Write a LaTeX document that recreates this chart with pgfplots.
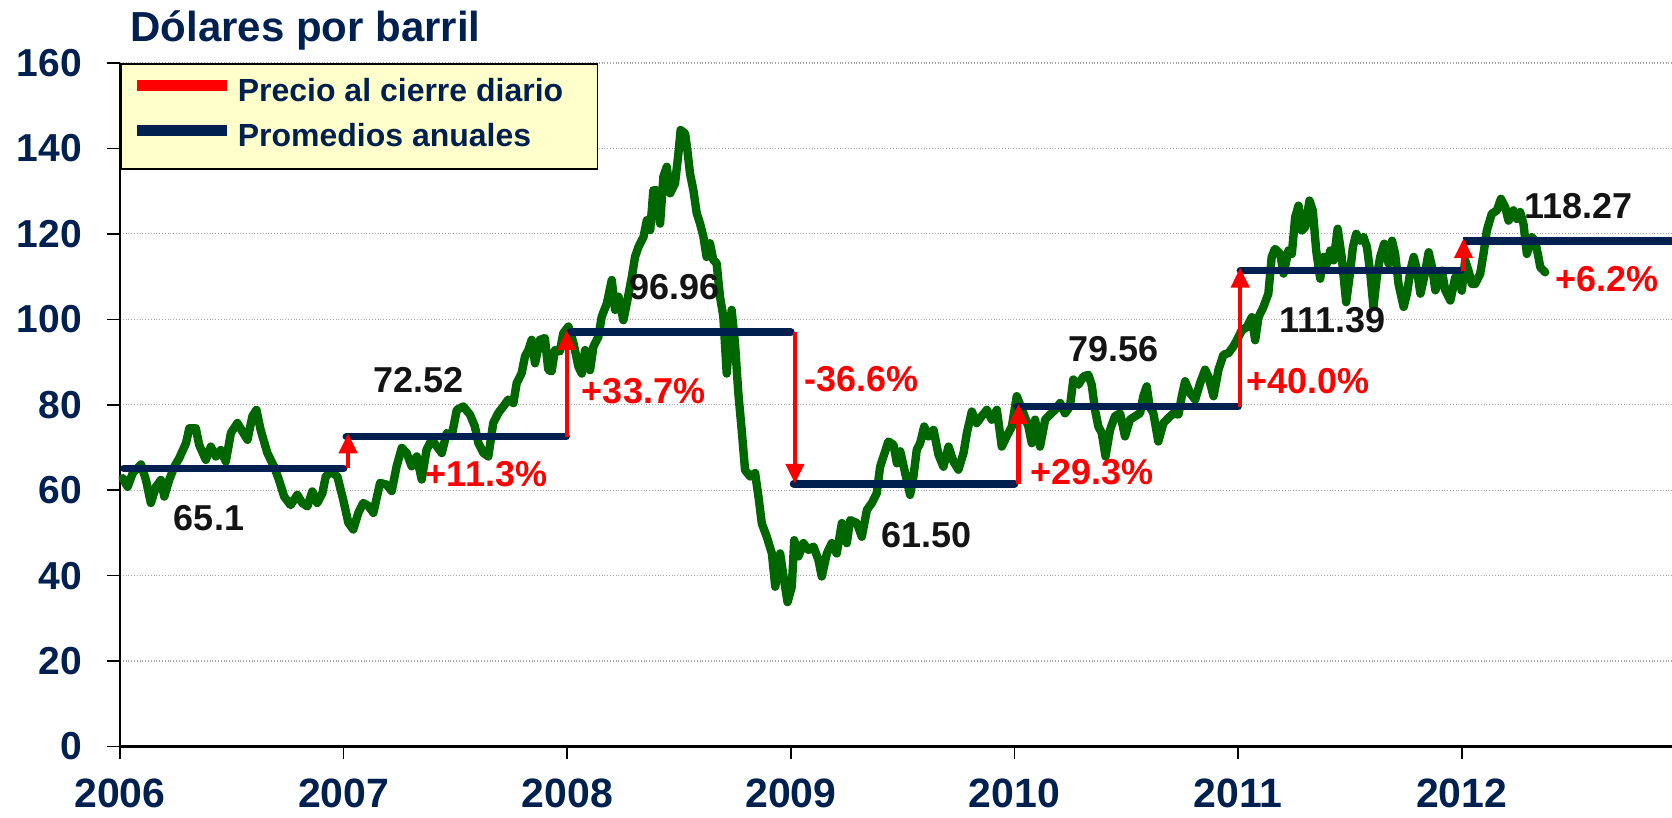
\documentclass[border=0pt]{standalone}
\usepackage{fontspec}
\setmainfont{Liberation Sans}
\usepackage{pgfplots}
\pgfplotsset{compat=1.18}
\usetikzlibrary{arrows.meta}
\definecolor{navy}{RGB}{0,32,80}
\definecolor{oilgreen}{RGB}{0,102,0}
\definecolor{legfill}{RGB}{255,255,204}
\definecolor{lab}{RGB}{20,20,20}
\begin{document}
\begin{tikzpicture}
\begin{axis}[
  at={(0,0)}, anchor=south west,
  scale only axis, width=776pt, height=341.75pt,
  xmin=2006, xmax=2012.94, ymin=0, ymax=160,
  clip=false,
  axis x line*=bottom, axis y line*=left,
  x axis line style={line width=1.6pt, -},
  y axis line style={line width=1pt, -},
  xtick={2006,2007,2008,2009,2010,2011,2012}, ytick={0,20,...,160},
  tick align=outside, major tick length=6.5pt,
  tick style={black, line width=0.8pt},
  ymajorgrids, major grid style={gray!70, densely dotted, line width=0.6pt},
  /pgf/number format/assume math mode=true,
  /pgf/number format/1000 sep={},
  xticklabel style={font=\fontsize{20.5}{20.5}\selectfont\bfseries, text=navy, yshift=-6pt},
  yticklabel style={font=\fontsize{19.5}{19.5}\selectfont\bfseries, text=navy, xshift=-9pt},
  legend style={at={(0,1)}, anchor=north west, fill=legfill, draw=black, line width=0.8pt,
    font=\fontsize{16}{16}\selectfont\bfseries\color{navy},
    inner xsep=5.5pt, inner ysep=7.5pt, row sep=7.5pt,
    nodes={text height=11.5pt, text depth=3.5pt, inner ysep=0pt, inner xsep=2.5pt}},
  legend cell align=left,
  legend image code/.code={\draw[#1] (0pt,4pt) -- (45pt,4pt);},
]
\addlegendimage{red, line width=5.5pt}
\addlegendentry{Precio al cierre diario\rule{9pt}{0pt}}
\addlegendimage{navy, line width=5.5pt}
\addlegendentry{Promedios anuales}

% daily close price
\addplot[oilgreen, line width=4.2pt, line join=round, line cap=round] coordinates {
(2006.012,62.8) (2006.034,60.8) (2006.057,64) (2006.094,66) (2006.116,62.4) (2006.138,57) (2006.161,60.8) (2006.183,62.4) (2006.198,58.5) (2006.220,62.4) (2006.243,65.5) (2006.265,67.5) (2006.295,71) (2006.310,74.5) (2006.339,74.5) (2006.354,70.6) (2006.384,67.1) (2006.406,70.2) (2006.429,67.9) (2006.451,69.4) (2006.473,66.7) (2006.496,73.4) (2006.525,75.7) (2006.548,73.7) (2006.570,71.8) (2006.592,77.3) (2006.610,78.8) (2006.629,74.1) (2006.659,68.7) (2006.689,65.5) (2006.711,62.4) (2006.734,58.5) (2006.763,56.5) (2006.793,58.9) (2006.815,57) (2006.838,56.2) (2006.860,59.7) (2006.882,57) (2006.905,59.3) (2006.920,63.2) (2006.942,64.4) (2006.972,63.2)
(2006.998,57.8) (2007.021,52.4) (2007.043,50.8) (2007.066,54.7) (2007.088,57) (2007.111,56.3) (2007.133,54.7) (2007.163,61.7) (2007.192,61.3) (2007.215,59.8) (2007.237,65.6) (2007.260,69.9) (2007.282,68.7) (2007.304,65.6) (2007.327,67.9) (2007.349,62.5) (2007.371,69.5) (2007.394,71.8) (2007.416,70.3) (2007.439,68.7) (2007.461,73.4) (2007.483,72.6) (2007.506,78.8) (2007.535,79.6) (2007.565,77.7) (2007.587,74.9) (2007.602,71.1) (2007.625,68.7) (2007.647,67.9) (2007.669,75.7) (2007.692,78.1) (2007.714,79.6) (2007.736,81.2) (2007.759,80.4) (2007.774,85.1) (2007.796,87.4) (2007.811,91.3) (2007.826,92.8) (2007.841,95.2) (2007.856,89.7) (2007.878,95.2) (2007.900,95.6) (2007.915,88.2) (2007.930,87.8) (2007.945,92.8) (2007.967,92.5) (2007.982,96.7)
(2008.005,98.3) (2008.028,94.4) (2008.050,88.9) (2008.065,87.3) (2008.080,92.8) (2008.102,88.1) (2008.117,93.6) (2008.139,95.9) (2008.154,100.6) (2008.177,103.7) (2008.199,109.2) (2008.214,102.2) (2008.229,105.3) (2008.251,99.8) (2008.266,103.7) (2008.289,110) (2008.303,114.6) (2008.318,116.9) (2008.341,119.3) (2008.356,123.2) (2008.371,120.9) (2008.385,130.2) (2008.400,130.2) (2008.415,122.4) (2008.430,133.4) (2008.445,135.7) (2008.460,129.5) (2008.482,131.8) (2008.497,138.8) (2008.507,144.3) (2008.527,143.5) (2008.537,139.6) (2008.549,134.1) (2008.564,130.2) (2008.579,124.8) (2008.594,122.4) (2008.609,119.3) (2008.623,114.6) (2008.638,117.8) (2008.653,113.9) (2008.668,113.1) (2008.683,105.3) (2008.698,100.6) (2008.713,87.3) (2008.735,102.2) (2008.750,94.4) (2008.765,82.7) (2008.780,74.1) (2008.795,64.7) (2008.818,63.2) (2008.840,64) (2008.855,58.5) (2008.870,52.2) (2008.892,49.1) (2008.915,45.2) (2008.930,37.4) (2008.952,45.2) (2008.967,39.8) (2008.985,33.8)
(2009.004,37.4) (2009.015,48.3) (2009.034,44.5) (2009.056,47.6) (2009.079,46) (2009.101,46.8) (2009.123,43.7) (2009.138,39.8) (2009.161,45.2) (2009.183,47.6) (2009.205,45.2) (2009.228,52.3) (2009.250,47.6) (2009.265,53) (2009.295,52.3) (2009.317,49.1) (2009.340,55.4) (2009.362,57) (2009.384,59.3) (2009.399,65.5) (2009.414,67.9) (2009.436,71.4) (2009.459,70.6) (2009.474,66.3) (2009.489,69.1) (2009.511,64) (2009.533,58.9) (2009.548,63.2) (2009.563,69.5) (2009.578,71) (2009.596,74.9) (2009.615,72.6) (2009.638,74.1) (2009.660,68.3) (2009.682,65.5) (2009.705,70.2) (2009.727,66.7) (2009.749,64.8) (2009.772,68.7) (2009.787,73.4) (2009.809,78.4) (2009.831,75.7) (2009.853,77.3) (2009.876,78.8) (2009.898,76.5) (2009.921,78.8) (2009.943,70.2) (2009.965,72.6) (2009.988,74.9)
(2010.010,82) (2010.040,78) (2010.062,74.9) (2010.077,71) (2010.092,76.5) (2010.114,70.2) (2010.137,76.5) (2010.159,77.7) (2010.181,78.8) (2010.204,80.4) (2010.226,78) (2010.248,79.6) (2010.263,85.9) (2010.286,84.7) (2010.308,86.6) (2010.330,87) (2010.345,84.7) (2010.360,78.8) (2010.375,74.9) (2010.390,73.4) (2010.407,67.9) (2010.427,74.1) (2010.449,77.3) (2010.472,78) (2010.494,72.6) (2010.516,76.5) (2010.539,77.3) (2010.561,78) (2010.576,82) (2010.591,84.3) (2010.604,79.6) (2010.621,78) (2010.643,71.4) (2010.666,75.7) (2010.688,76.9) (2010.711,78) (2010.733,77.7) (2010.748,82) (2010.763,85.5) (2010.785,82.7) (2010.808,81.2) (2010.830,85.1) (2010.852,88.2) (2010.867,86.6) (2010.890,82) (2010.912,88.2) (2010.934,91.7) (2010.957,92.1) (2010.979,93.7)
(2010.994,95.1) (2011.016,97.4) (2011.039,98.2) (2011.061,100.5) (2011.076,95.1) (2011.091,100.5) (2011.113,102.9) (2011.135,106) (2011.150,114.6) (2011.165,116.5) (2011.188,115.3) (2011.203,110.7) (2011.225,116.1) (2011.240,115.3) (2011.255,123.9) (2011.270,126.6) (2011.285,120.8) (2011.300,121.6) (2011.319,127.8) (2011.334,125.4) (2011.349,116.1) (2011.367,109.5) (2011.382,114.6) (2011.397,113) (2011.412,116.1) (2011.427,113.8) (2011.445,121.2) (2011.463,114.6) (2011.483,104) (2011.498,109.9) (2011.513,116.9) (2011.528,120) (2011.546,118.4) (2011.561,119.2) (2011.576,116.9) (2011.591,110.7) (2011.605,102.9) (2011.620,109.9) (2011.635,114.6) (2011.653,117.7) (2011.673,113) (2011.688,118.4) (2011.702,115.3) (2011.717,108.3) (2011.740,102.9) (2011.755,106) (2011.770,111.4) (2011.785,114.6) (2011.800,111.4) (2011.815,106) (2011.832,109.9) (2011.852,115.7) (2011.867,112.2) (2011.882,106.8) (2011.897,109.1) (2011.911,111.4) (2011.926,106.8) (2011.949,104.4) (2011.971,109.9)
(2011.985,109.8) (2012.000,106.7) (2012.015,113.8) (2012.030,111.4) (2012.045,108.3) (2012.060,108.3) (2012.082,110.6) (2012.097,115.3) (2012.112,120.8) (2012.134,124.7) (2012.157,125.5) (2012.175,128.2) (2012.194,126.3) (2012.209,123.1) (2012.231,125.5) (2012.246,123.5) (2012.261,125.1) (2012.276,122.3) (2012.291,115.3) (2012.313,119.2) (2012.328,118.4) (2012.343,114.5) (2012.351,112.2) (2012.373,111)
};

% annual averages
\addplot[navy, line width=3.8pt, line cap=round] coordinates {(2006.017,65.1) (2007.0,65.1)};
\addplot[navy, line width=3.8pt, line cap=round] coordinates {(2007.012,72.52) (2007.995,72.52)};
\addplot[navy, line width=3.8pt, line cap=round] coordinates {(2008.012,96.96) (2009.0,96.96)};
\addplot[navy, line width=3.8pt, line cap=round] coordinates {(2009.012,61.50) (2010.0,61.50)};
\addplot[navy, line width=3.8pt, line cap=round] coordinates {(2010.010,79.56) (2011.0,79.56)};
\addplot[navy, line width=3.8pt, line cap=round] coordinates {(2011.010,111.39) (2011.995,111.39)};
\addplot[navy, line width=3.8pt, line cap=butt] coordinates {(2012.006,118.27) (2012.94,118.27)};

% change arrows
\addplot[red, line width=2.2pt, -{Triangle[length=10pt,width=9pt]}] coordinates {(2007.02,65.1) (2007.02,73.3)};
\addplot[red, line width=2.2pt, -{Triangle[length=10pt,width=9pt]}] coordinates {(2007.998,72.52) (2007.998,97.5)};
\addplot[red, line width=2.2pt, -{Triangle[length=10pt,width=9pt]}] coordinates {(2009.018,96.96) (2009.018,61.5)};
\addplot[red, line width=2.2pt, -{Triangle[length=10pt,width=9pt]}] coordinates {(2010.018,61.5) (2010.018,80.2)};
\addplot[red, line width=2.2pt, -{Triangle[length=10pt,width=9pt]}] coordinates {(2011.009,79.56) (2011.009,112.1)};
\addplot[red, line width=2.2pt, -{Triangle[length=10pt,width=9pt]}] coordinates {(2012.008,111.39) (2012.008,119.0)};

% average labels
\tikzset{avg/.style={font=\fontsize{18}{18}\selectfont\bfseries, text=lab, inner sep=0pt},
         pct/.style={font=\fontsize{18}{18}\selectfont\bfseries, text=red, inner sep=0pt}}
\node[avg] at (axis cs:2006.398,53.4) {65.1};
\node[avg] at (axis cs:2007.333,85.7) {72.52};
\node[avg] at (axis cs:2008.478,107.6) {96.96};
\node[avg] at (axis cs:2009.605,49.6) {61.50};
\node[avg] at (axis cs:2010.441,93.0) {79.56};
\node[avg] at (axis cs:2011.420,99.8) {111.39};
\node[avg] at (axis cs:2012.521,126.5) {118.27};

\node[pct] at (axis cs:2007.639,63.8) {+11.3\%};
\node[pct] at (axis cs:2008.341,83.3) {+33.7\%};
\node[pct] at (axis cs:2009.316,85.9) {-36.6\%};
\node[pct] at (axis cs:2010.347,64.3) {+29.3\%};
\node[pct] at (axis cs:2011.313,85.5) {+40.0\%};
\node[pct] at (axis cs:2012.649,109.4) {+6.2\%};

\node[anchor=base west, xshift=5pt, yshift=10.5pt, inner sep=0pt,
      font=\fontsize{21}{21}\selectfont\bfseries, text=navy] at (rel axis cs:0,1) {Dólares por barril};
\end{axis}
\pgfresetboundingbox
\path[use as bounding box] (-60pt,-35.75pt) rectangle (776pt,373.25pt);
\end{tikzpicture}
\end{document}
